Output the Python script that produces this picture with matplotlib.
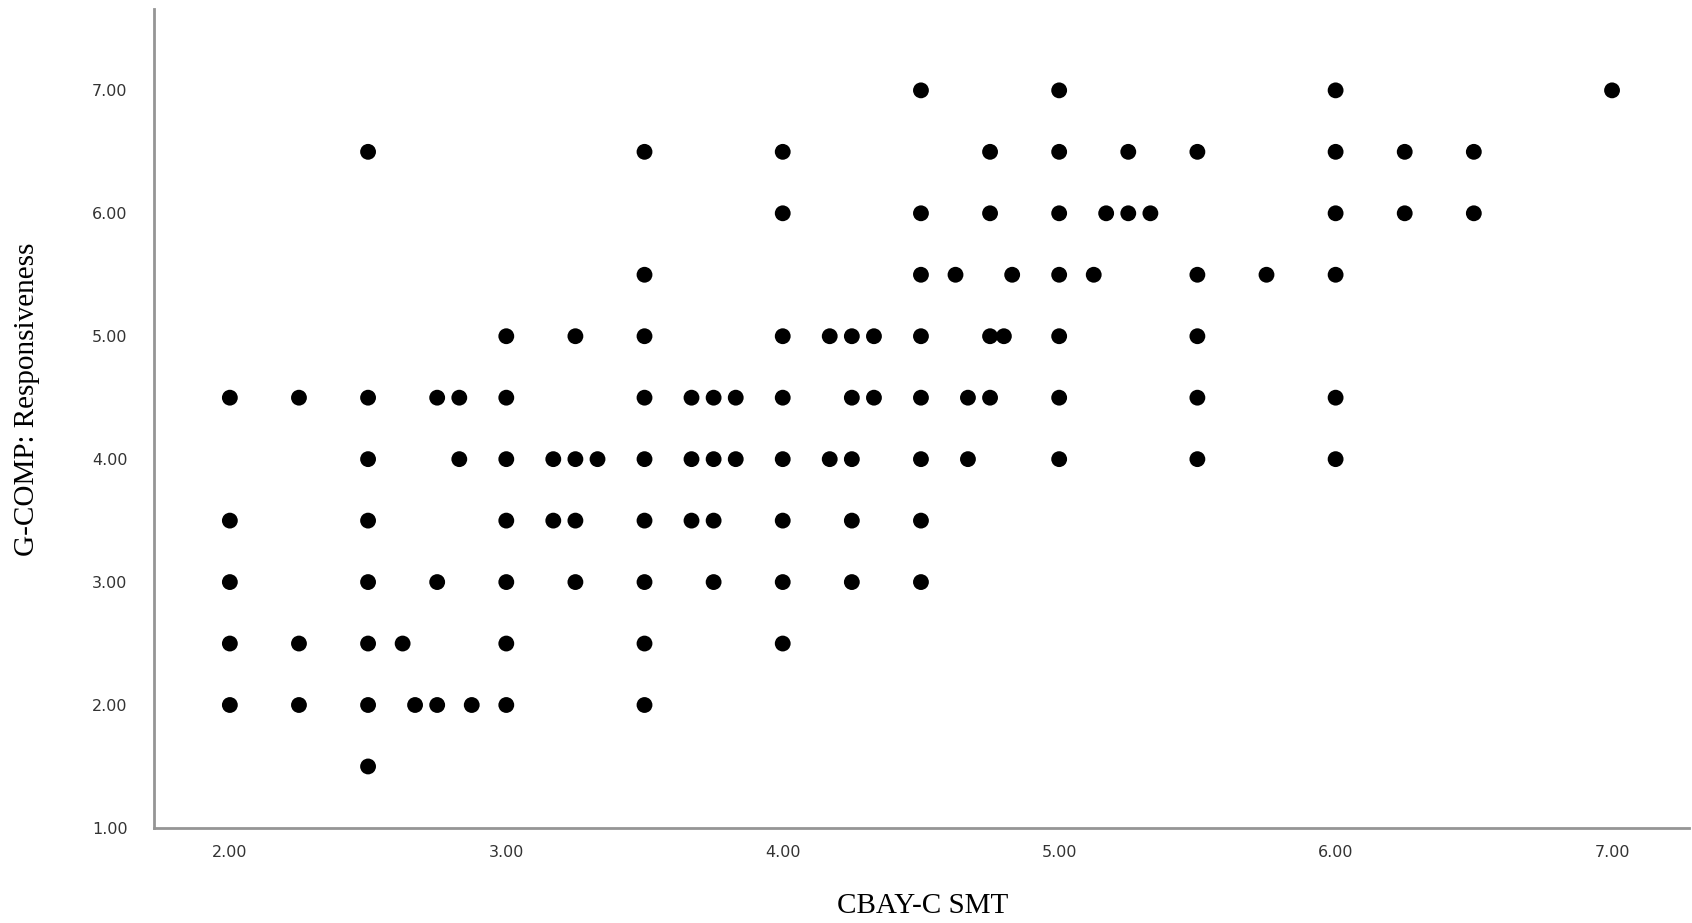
import matplotlib
matplotlib.use('Agg')
import matplotlib.pyplot as plt

# CBAY-C SMT (x) vs G-COMP: Responsiveness (y), one entry per visible dot, grouped by y level
y_levels = [7.0, 6.5, 6.0, 5.5, 5.0, 4.5, 4.0, 3.5, 3.0, 2.5, 2.0, 1.5]
x_by_level = [
    [4.5, 5.0, 6.0, 7.0],
    [2.5, 3.5, 4.0, 4.75, 5.0, 5.25, 5.5, 6.0, 6.25, 6.5],
    [4.0, 4.5, 4.75, 5.0, 5.17, 5.25, 5.33, 6.0, 6.25, 6.5],
    [3.5, 4.5, 4.625, 4.83, 5.0, 5.125, 5.5, 5.75, 6.0],
    [3.0, 3.25, 3.5, 4.0, 4.17, 4.25, 4.33, 4.5, 4.75, 4.8, 5.0, 5.5],
    [2.0, 2.25, 2.5, 2.75, 2.83, 3.0, 3.5, 3.67, 3.75, 3.83, 4.0, 4.25, 4.33,
     4.5, 4.67, 4.75, 5.0, 5.5, 6.0],
    [2.5, 2.83, 3.0, 3.17, 3.25, 3.33, 3.5, 3.67, 3.75, 3.83, 4.0, 4.17, 4.25,
     4.5, 4.67, 5.0, 5.5, 6.0],
    [2.0, 2.5, 3.0, 3.17, 3.25, 3.5, 3.67, 3.75, 4.0, 4.25, 4.5],
    [2.0, 2.5, 2.75, 3.0, 3.25, 3.5, 3.75, 4.0, 4.25, 4.5],
    [2.0, 2.25, 2.5, 2.625, 3.0, 3.5, 4.0],
    [2.0, 2.25, 2.5, 2.67, 2.75, 2.875, 3.0, 3.5],
    [2.5],
]
x_ticks = [2.0, 3.0, 4.0, 5.0, 6.0, 7.0]
y_ticks = [1.0, 2.0, 3.0, 4.0, 5.0, 6.0, 7.0]

xs = []
ys = []
for yv, row in zip(y_levels, x_by_level):
    xs.extend(row)
    ys.extend([yv] * len(row))

fig = plt.figure(figsize=(16.92, 9.23), dpi=100)
ax = fig.add_axes([0.091, 0.103, 0.907, 0.887])

ax.scatter(xs, ys, s=130, color='black', edgecolors='none')

ax.set_xlim(1.7255, 7.277)
ax.set_ylim(1.0, 7.66)
ax.set_xticks(x_ticks)
ax.set_yticks(y_ticks)
ax.set_xticklabels(['%.2f' % v for v in x_ticks])
ax.set_yticklabels(['%.2f' % v for v in y_ticks])

for side in ['top', 'right']:
    ax.spines[side].set_visible(False)
for side in ['left', 'bottom']:
    ax.spines[side].set_color('#959595')
    ax.spines[side].set_linewidth(2)

ax.tick_params(length=0, labelsize=11.5, colors='#333333')
ax.tick_params(axis='x', pad=12)
ax.tick_params(axis='y', pad=19)
for lbl in ax.get_xticklabels() + ax.get_yticklabels():
    lbl.set_family('DejaVu Sans')

ax.set_xlabel('CBAY-C SMT', family='Liberation Serif', fontsize=21, va='center')
ax.set_ylabel('G-COMP: Responsiveness', family='Liberation Serif', fontsize=21,
              va='center')
ax.xaxis.set_label_coords(0.501, -0.095)
ax.yaxis.set_label_coords(-0.083, 0.524)

fig.savefig('out.png', dpi=100)
